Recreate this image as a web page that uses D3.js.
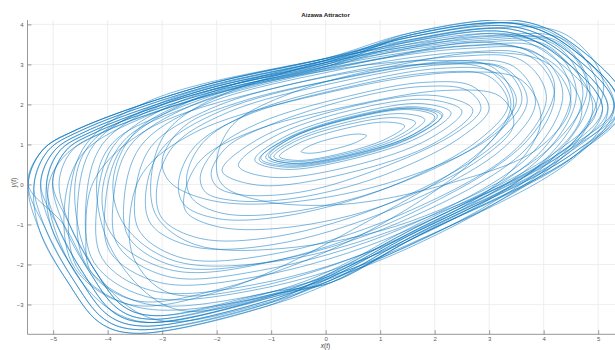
<!DOCTYPE html>
<html>
<head>
<meta charset="utf-8">
<script src="https://cdn.jsdelivr.net/npm/d3@7"></script>
<style>
  body { margin: 0; background: #fff; }
  svg { display: block; }
  text { font-family: Helvetica, Arial, "Liberation Sans", sans-serif; }
</style>
</head>
<body>
<svg id="chart" width="615" height="350"></svg>
<script>
// Phase portrait of the trajectory, x(t) against y(t).
const titleText = "Aizawa Attractor";
const xTicks = [-5, -4, -3, -2, -1, 0, 1, 2, 3, 4, 5];
const yTicks = [-3, -2, -1, 0, 1, 2, 3, 4];
const xDomain = [-5.471, 5.309];
const yDomain = [-3.745, 4.11];

// Tight orbits around the focus near (0.4, 1.1)
const innerRings = [
  [[-0.45,0.82],[-0.27,0.98],[0.15,1.16],[0.57,1.26],[0.75,1.22],[0.57,1.06],[0.15,0.88],[-0.27,0.78]],
  [[-0.85,0.70],[-0.51,1.02],[0.30,1.38],[1.11,1.56],[1.45,1.46],[1.11,1.14],[0.30,0.78],[-0.51,0.60]],
  [[-0.95,0.69],[-0.57,1.07],[0.35,1.48],[1.27,1.67],[1.65,1.55],[1.27,1.17],[0.35,0.76],[-0.57,0.57]],
  [[-1.02,0.68],[-0.60,1.11],[0.40,1.56],[1.40,1.77],[1.82,1.62],[1.40,1.19],[0.40,0.74],[-0.60,0.53]],
  [[-1.10,0.67],[-0.65,1.15],[0.45,1.64],[1.55,1.87],[2.00,1.69],[1.55,1.21],[0.45,0.72],[-0.65,0.49]],
  [[-1.05,0.70],[-0.60,1.18],[0.50,1.67],[1.60,1.90],[2.05,1.72],[1.60,1.24],[0.50,0.75],[-0.60,0.52]],
  [[-1.19,0.65],[-0.70,1.16],[0.48,1.70],[1.66,1.94],[2.15,1.75],[1.66,1.24],[0.48,0.70],[-0.70,0.46]],
  [[-1.22,0.62],[-0.72,1.13],[0.46,1.67],[1.64,1.91],[2.13,1.72],[1.64,1.21],[0.46,0.67],[-0.72,0.43]],
  [[-1.30,0.61],[-0.77,1.18],[0.50,1.76],[1.77,2.02],[2.30,1.79],[1.77,1.22],[0.50,0.64],[-0.77,0.38]],
  [[-1.60,0.47],[-1.00,1.16],[0.45,1.85],[1.90,2.12],[2.50,1.83],[1.90,1.14],[0.45,0.45],[-1.00,0.18]],
  [[-1.90,0.34],[-1.23,1.14],[0.40,1.92],[2.03,2.22],[2.70,1.86],[2.03,1.06],[0.40,0.28],[-1.23,-0.02]]
];

// Wider excursions between the focus and the outer band
const middleLoops = [
  [[-2.10,0.30],[-1.80,0.95],[-1.00,1.50],[0.50,2.15],[1.80,2.45],[2.60,2.35],[2.85,1.90],[2.40,1.30],[0.90,0.35],[-0.50,-0.20],[-1.60,-0.25],[-2.00,-0.05]],
  [[-2.30,0.20],[-2.00,0.90],[-1.20,1.55],[0.40,2.20],[1.80,2.55],[2.70,2.45],[3.00,1.90],[2.50,1.20],[1.00,0.20],[-0.60,-0.35],[-1.70,-0.40],[-2.20,-0.20]],
  [[-2.70,0.05],[-2.40,0.95],[-1.50,1.70],[0.30,2.40],[2.00,2.80],[3.00,2.70],[3.35,2.00],[2.80,1.10],[1.10,-0.10],[-0.80,-0.80],[-2.00,-0.85],[-2.60,-0.50]],
  [[-2.55,0.20],[-2.25,1.05],[-1.40,1.78],[0.35,2.48],[2.10,2.90],[3.10,2.80],[3.50,2.10],[2.95,1.15],[1.20,-0.05],[-0.70,-0.70],[-1.90,-0.72],[-2.45,-0.35]],
  [[-3.10,-0.10],[-2.80,0.95],[-1.80,1.80],[0.20,2.55],[2.20,3.00],[3.30,2.90],[3.70,2.10],[3.10,1.00],[1.20,-0.45],[-0.90,-1.30],[-2.30,-1.35],[-3.00,-0.85]],
  [[-3.30,-0.20],[-3.00,0.90],[-1.95,1.82],[0.10,2.60],[2.30,3.08],[3.45,2.95],[3.85,2.05],[3.25,0.90],[1.25,-0.60],[-0.95,-1.50],[-2.45,-1.55],[-3.20,-1.00]],
  [[-3.50,-0.30],[-3.20,0.95],[-2.10,1.90],[0.00,2.70],[2.40,3.20],[3.60,3.10],[4.05,2.20],[3.50,0.90],[1.30,-0.80],[-1.00,-1.75],[-2.60,-1.85],[-3.40,-1.20]],
  [[-3.70,-0.40],[-3.40,0.95],[-2.30,1.95],[-0.05,2.78],[2.50,3.30],[3.75,3.20],[4.20,2.25],[3.65,0.85],[1.35,-0.95],[-1.10,-1.95],[-2.75,-2.05],[-3.60,-1.35]],
  [[-3.90,-0.45],[-3.60,0.95],[-2.50,1.95],[-0.10,2.85],[2.60,3.40],[3.85,3.30],[4.35,2.30],[3.80,0.80],[1.40,-1.10],[-1.20,-2.15],[-2.90,-2.30],[-3.80,-1.55]],
  [[-4.05,-0.60],[-3.75,0.90],[-2.65,1.98],[-0.15,2.90],[2.70,3.48],[4.00,3.38],[4.50,2.30],[3.90,0.75],[1.40,-1.20],[-1.25,-2.30],[-3.05,-2.45],[-3.95,-1.70]],
  [[-4.20,-0.55],[-3.90,0.95],[-2.80,2.00],[-0.20,2.95],[2.80,3.55],[4.10,3.45],[4.60,2.30],[4.00,0.75],[1.40,-1.35],[-1.30,-2.50],[-3.20,-2.65],[-4.10,-1.85]],
  [[-4.40,-0.50],[-4.10,1.00],[-2.95,2.02],[-0.25,2.98],[2.85,3.60],[4.20,3.50],[4.72,2.30],[4.10,0.72],[1.45,-1.45],[-1.35,-2.65],[-3.30,-2.80],[-4.25,-1.95]],
  [[-4.55,-0.45],[-4.25,1.00],[-3.10,2.00],[-0.30,3.00],[2.90,3.65],[4.30,3.55],[4.85,2.30],[4.20,0.70],[1.50,-1.55],[-1.40,-2.80],[-3.40,-2.95],[-4.40,-2.00]],
  [[-4.70,-0.35],[-4.40,1.00],[-3.30,2.05],[-0.35,3.05],[3.00,3.72],[4.40,3.60],[5.00,2.30],[4.30,0.70],[1.50,-1.60],[-1.45,-2.90],[-3.50,-3.05],[-4.55,-2.10]]
];

// Passes whose shape drifts from one side of the portrait to the other
const crossingLoops = [
  [[-3.00,0.60],[-2.60,1.45],[-1.60,2.05],[0.30,2.65],[2.30,3.05],[3.30,2.85],[3.60,2.10],[3.00,1.15],[1.30,0.10],[-0.70,-0.45],[-2.10,-0.40],[-2.85,0.05]],
  [[-3.60,-0.90],[-3.35,0.30],[-2.40,1.30],[-0.10,2.25],[2.40,2.80],[3.60,2.60],[3.95,1.60],[3.30,0.20],[1.10,-1.50],[-1.40,-2.60],[-2.90,-2.70],[-3.50,-1.90]],
  [[-3.20,0.20],[-2.90,1.35],[-1.80,2.30],[0.50,3.10],[3.00,3.70],[4.30,3.50],[4.80,2.40],[4.10,0.90],[1.60,-0.90],[-0.80,-1.60],[-2.40,-1.50],[-3.10,-0.80]],
  [[-4.80,-0.70],[-4.50,0.70],[-3.30,1.70],[-0.60,2.70],[2.00,3.10],[3.10,2.90],[3.45,2.00],[2.90,0.90],[0.80,-0.90],[-1.80,-2.60],[-3.60,-3.00],[-4.60,-2.10]],
  [[-2.00,0.60],[-1.70,1.50],[-0.60,2.30],[1.20,2.95],[3.00,3.30],[4.10,3.00],[4.50,2.00],[3.90,0.90],[2.20,0.00],[0.30,-0.50],[-1.20,-0.40],[-1.90,0.00]],
  [[-4.40,-1.30],[-4.25,0.10],[-3.30,1.35],[-0.80,2.45],[1.80,3.00],[3.00,2.85],[3.40,2.00],[2.70,0.60],[0.60,-1.30],[-1.90,-2.60],[-3.50,-2.90],[-4.30,-2.20]],
  [[-3.90,0.10],[-3.50,1.30],[-2.20,2.25],[0.30,3.20],[3.00,3.90],[4.40,3.75],[5.10,2.50],[4.50,1.00],[1.90,-0.80],[-0.80,-1.90],[-2.80,-1.90],[-3.70,-1.00]],
  [[-2.60,-0.30],[-2.30,0.60],[-1.40,1.30],[0.40,1.95],[2.20,2.35],[3.20,2.20],[3.45,1.50],[2.80,0.60],[0.90,-0.60],[-0.90,-1.10],[-2.00,-1.05],[-2.55,-0.70]],
  [[-4.10,-0.20],[-3.70,1.10],[-2.40,2.00],[0.00,2.85],[2.50,3.45],[3.70,3.35],[4.20,2.50],[3.70,1.10],[1.60,-0.70],[-0.90,-1.90],[-2.80,-2.15],[-3.90,-1.30]],
  [[-5.10,-0.20],[-4.80,0.70],[-4.00,1.35],[-1.80,2.35],[1.00,3.15],[3.00,3.55],[4.20,3.00],[4.70,1.80],[4.00,0.55],[1.30,-1.50],[-1.40,-2.95],[-3.50,-3.40],[-4.50,-2.40]],
  [[-4.20,0.10],[-3.90,1.05],[-2.90,1.80],[-0.60,2.85],[1.80,3.75],[3.70,4.00],[4.60,3.35],[5.30,1.95],[4.50,0.60],[1.60,-1.45],[-0.90,-2.75],[-2.80,-3.10],[-3.90,-1.70]],
  [[-4.60,0.00],[-4.30,1.05],[-3.30,1.85],[-0.90,2.75],[1.50,3.45],[3.40,3.75],[4.40,3.10],[4.90,1.90],[4.20,0.50],[1.40,-1.60],[-1.20,-3.00],[-3.20,-3.35],[-4.30,-2.00]]
];

// Outer band that sweeps round the whole attractor
const outerLoops = [
  [[-5.46,0.00],[-5.20,0.85],[-4.60,1.35],[-2.30,2.45],[0.00,3.15],[1.60,3.80],[3.60,4.08],[4.60,3.45],[5.50,2.00],[4.60,0.75],[1.60,-1.35],[0.10,-2.45],[-1.10,-3.05],[-3.50,-3.72],[-4.15,-3.45],[-4.75,-2.40],[-5.25,-1.15]],
  [[-5.35,0.01],[-5.09,0.85],[-4.50,1.34],[-2.25,2.42],[0.00,3.10],[1.57,3.74],[3.53,4.01],[4.51,3.40],[5.39,1.97],[4.51,0.75],[1.57,-1.31],[0.10,-2.39],[-1.07,-2.98],[-3.43,-3.63],[-4.06,-3.37],[-4.65,-2.34],[-5.14,-1.11]],
  [[-5.23,0.03],[-4.98,0.84],[-4.41,1.32],[-2.20,2.38],[0.01,3.05],[1.54,3.68],[3.46,3.94],[4.42,3.34],[5.29,1.95],[4.42,0.75],[1.54,-1.27],[0.10,-2.32],[-1.05,-2.90],[-3.35,-3.54],[-3.98,-3.28],[-4.55,-2.28],[-5.03,-1.08]],
  [[-5.12,0.04],[-4.88,0.84],[-4.31,1.31],[-2.15,2.35],[0.01,3.00],[1.52,3.61],[3.40,3.88],[4.34,3.29],[5.18,1.92],[4.34,0.75],[1.52,-1.23],[0.11,-2.26],[-1.02,-2.83],[-3.28,-3.45],[-3.89,-3.20],[-4.45,-2.21],[-4.92,-1.04]],
  [[-5.01,0.06],[-4.77,0.84],[-4.22,1.30],[-2.10,2.31],[0.02,2.95],[1.49,3.55],[3.33,3.81],[4.25,3.23],[5.08,1.90],[4.25,0.75],[1.49,-1.19],[0.11,-2.20],[-1.00,-2.75],[-3.20,-3.37],[-3.80,-3.12],[-4.35,-2.15],[-4.81,-1.00]],
  [[-4.89,0.07],[-4.66,0.84],[-4.12,1.29],[-2.05,2.28],[0.02,2.91],[1.46,3.49],[3.26,3.74],[4.16,3.18],[4.97,1.87],[4.16,0.75],[1.46,-1.15],[0.11,-2.14],[-0.97,-2.68],[-3.13,-3.28],[-3.72,-3.04],[-4.26,-2.09],[-4.71,-0.97]],
  [[-5.46,0.00],[-5.20,0.85],[-4.60,1.35],[-2.30,2.45],[0.00,3.15],[1.54,3.68],[3.46,3.94],[4.42,3.34],[5.29,1.95],[4.25,0.75],[1.49,-1.19],[0.11,-2.20],[-1.07,-2.98],[-3.43,-3.63],[-4.06,-3.37],[-4.65,-2.34],[-5.14,-1.11]],
  [[-5.23,0.03],[-4.98,0.84],[-4.41,1.32],[-2.20,2.38],[0.01,3.05],[1.60,3.80],[3.60,4.08],[4.60,3.45],[5.50,2.00],[4.51,0.75],[1.57,-1.31],[0.10,-2.39],[-1.02,-2.83],[-3.28,-3.45],[-3.89,-3.20],[-4.45,-2.21],[-4.92,-1.04]],
  [[-5.01,0.06],[-4.77,0.84],[-4.22,1.30],[-2.10,2.31],[0.02,2.95],[1.57,3.74],[3.53,4.01],[4.51,3.40],[5.39,1.97],[4.60,0.75],[1.60,-1.35],[0.10,-2.45],[-0.97,-2.68],[-3.13,-3.28],[-3.72,-3.04],[-4.26,-2.09],[-4.71,-0.97]],
  [[-5.35,0.01],[-5.09,0.85],[-4.50,1.34],[-2.25,2.42],[0.00,3.10],[1.49,3.55],[3.33,3.81],[4.25,3.23],[5.08,1.90],[4.42,0.75],[1.54,-1.27],[0.10,-2.32],[-1.10,-3.05],[-3.50,-3.72],[-4.15,-3.45],[-4.75,-2.40],[-5.25,-1.15]],
  [[-5.12,0.04],[-4.88,0.84],[-4.31,1.31],[-2.15,2.35],[0.01,3.00],[1.57,3.74],[3.53,4.01],[4.51,3.40],[5.39,1.97],[4.34,0.75],[1.52,-1.23],[0.11,-2.26],[-1.05,-2.90],[-3.35,-3.54],[-3.98,-3.28],[-4.55,-2.28],[-5.03,-1.08]],
  [[-5.46,0.00],[-5.20,0.85],[-4.60,1.35],[-2.30,2.45],[0.00,3.15],[1.52,3.61],[3.40,3.88],[4.34,3.29],[5.18,1.92],[4.60,0.75],[1.60,-1.35],[0.10,-2.45],[-1.00,-2.75],[-3.20,-3.37],[-3.80,-3.12],[-4.35,-2.15],[-4.81,-1.00]]
];

const plot = { left: 27.5, right: 615, top: 20, bottom: 334.3 };

const x = d3.scaleLinear().domain(xDomain).range([plot.left, plot.right]);
const y = d3.scaleLinear().domain(yDomain).range([plot.bottom, plot.top]);

const svg = d3.select("#chart");

svg.append("defs").append("clipPath").attr("id", "plotClip")
  .append("rect")
  .attr("x", plot.left).attr("y", plot.top)
  .attr("width", plot.right - plot.left).attr("height", plot.bottom - plot.top);

// grid
const grid = svg.append("g").attr("stroke", "#e8e8e8").attr("stroke-width", 0.7);
grid.selectAll("line.v").data(xTicks).join("line")
  .attr("x1", d => x(d)).attr("x2", d => x(d))
  .attr("y1", plot.top).attr("y2", plot.bottom);
grid.selectAll("line.h").data(yTicks).join("line")
  .attr("x1", plot.left).attr("x2", plot.right)
  .attr("y1", d => y(d)).attr("y2", d => y(d));

// trajectory
const line = d3.line()
  .x(d => x(d[0])).y(d => y(d[1]))
  .curve(d3.curveCatmullRomClosed.alpha(0.5));

const allLoops = [...outerLoops, ...middleLoops, ...crossingLoops, ...innerRings];
svg.append("g").attr("clip-path", "url(#plotClip)")
  .selectAll("path").data(allLoops).join("path")
  .attr("d", line)
  .attr("fill", "none")
  .attr("stroke", "#0072BD")
  .attr("stroke-width", 0.6)
  .attr("stroke-opacity", 0.85);

// axes (inward ticks)
const xAxis = d3.axisBottom(x).tickValues(xTicks).tickSize(-4).tickPadding(5).tickFormat(d3.format("d"));
const yAxis = d3.axisLeft(y).tickValues(yTicks).tickSize(-4).tickPadding(4).tickFormat(d3.format("d"));

const gx = svg.append("g").attr("transform", `translate(0,${plot.bottom})`).call(xAxis);
const gy = svg.append("g").attr("transform", `translate(${plot.left},0)`).call(yAxis);

[gx, gy].forEach(g => {
  g.select(".domain").attr("stroke", "#8c8c8c").attr("stroke-width", 0.9);
  g.selectAll(".tick line").attr("stroke", "#8c8c8c").attr("stroke-width", 0.9);
  g.selectAll(".tick text").attr("fill", "#5a5a5a").attr("font-size", 6)
    .attr("font-family", "Helvetica, Arial, 'Liberation Sans', sans-serif");
});
gx.select(".domain").attr("d", `M${plot.left},0H${plot.right}`);
gy.select(".domain").attr("d", `M0,${plot.bottom}V${plot.top}`);
gx.selectAll(".tick text").attr("dy", "0.35em");

// title
svg.append("text")
  .attr("x", 325.5).attr("y", 17)
  .attr("text-anchor", "middle")
  .attr("font-size", 6.2).attr("font-weight", "bold").attr("fill", "#222")
  .text(titleText);

// axis labels
const xl = svg.append("text")
  .attr("x", 325.5).attr("y", 348.3)
  .attr("text-anchor", "middle")
  .attr("font-family", "'DejaVu Serif', 'Liberation Serif', serif")
  .attr("font-size", 6.5).attr("fill", "#404040");
xl.append("tspan").attr("font-style", "italic").text("x");
xl.append("tspan").text("(");
xl.append("tspan").attr("font-style", "italic").text("t");
xl.append("tspan").text(")");

const yl = svg.append("text")
  .attr("transform", "translate(15.5,182.5) rotate(-90)")
  .attr("text-anchor", "middle")
  .attr("font-family", "'DejaVu Serif', 'Liberation Serif', serif")
  .attr("font-size", 6.5).attr("fill", "#404040");
yl.append("tspan").attr("font-style", "italic").text("y");
yl.append("tspan").text("(");
yl.append("tspan").attr("font-style", "italic").text("t");
yl.append("tspan").text(")");
</script>
</body>
</html>
